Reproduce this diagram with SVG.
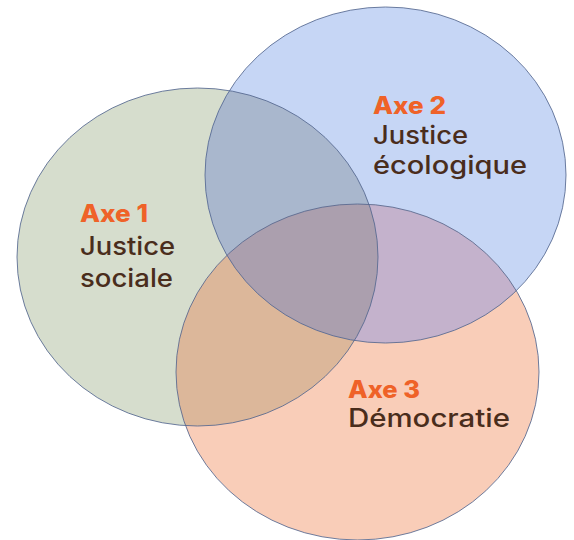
<svg xmlns="http://www.w3.org/2000/svg" width="574" height="540" viewBox="0 0 574 540">
<defs>
<style>
.ax{font-family:Inter,"Open Sans","Liberation Sans",sans-serif;font-weight:800;font-size:24px;fill:#ef6228}
.tx{font-family:Inter,"Open Sans","Liberation Sans",sans-serif;font-weight:500;font-size:25px;fill:#4a2d1c}
.ring{fill:none;stroke:#55678f;stroke-width:1;stroke-opacity:0.85}
</style>
<clipPath id="k1"><ellipse cx="197.5" cy="257" rx="180.5" ry="169"/></clipPath>
<clipPath id="k2"><ellipse cx="385.5" cy="175" rx="180.5" ry="168"/></clipPath>
<clipPath id="k3"><ellipse cx="357.5" cy="372" rx="181.5" ry="168"/></clipPath>
</defs>
<rect width="574" height="540" fill="#ffffff"/>
<g id="axe1">
<ellipse cx="197.5" cy="257" rx="180.5" ry="169" fill="#d6ddcd"/>
<text class="ax" x="80" y="222" textLength="68" lengthAdjust="spacingAndGlyphs">Axe 1</text>
<text class="tx" x="80" y="255" textLength="95" lengthAdjust="spacingAndGlyphs">Justice</text>
<text class="tx" x="80" y="287" textLength="93" lengthAdjust="spacingAndGlyphs">sociale</text>
</g>
<g id="axe2">
<ellipse cx="385.5" cy="175" rx="180.5" ry="168" fill="#c6d6f5"/>
<text class="ax" x="373" y="114" textLength="73" lengthAdjust="spacingAndGlyphs">Axe 2</text>
<text class="tx" x="373" y="144" textLength="95" lengthAdjust="spacingAndGlyphs">Justice</text>
<text class="tx" x="373" y="174" textLength="154" lengthAdjust="spacingAndGlyphs">écologique</text>
</g>
<g id="axe3">
<ellipse cx="357.5" cy="372" rx="181.5" ry="168" fill="#f9cdb8"/>
<text class="ax" x="348" y="398" textLength="72" lengthAdjust="spacingAndGlyphs">Axe 3</text>
<text class="tx" x="348" y="427" textLength="162" lengthAdjust="spacingAndGlyphs">Démocratie</text>
</g>
<g id="overlaps">
<ellipse cx="385.5" cy="175" rx="180.5" ry="168" fill="#a9b7cd" clip-path="url(#k1)"/>
<ellipse cx="357.5" cy="372" rx="181.5" ry="168" fill="#dcb79a" clip-path="url(#k1)"/>
<ellipse cx="357.5" cy="372" rx="181.5" ry="168" fill="#c4b2cc" clip-path="url(#k2)"/>
<g clip-path="url(#k2)"><ellipse cx="357.5" cy="372" rx="181.5" ry="168" fill="#ab9fae" clip-path="url(#k1)"/></g>
</g>
<g id="outlines">
<ellipse class="ring" cx="197.5" cy="257" rx="180.5" ry="169"/>
<ellipse class="ring" cx="385.5" cy="175" rx="180.5" ry="168"/>
<ellipse class="ring" cx="357.5" cy="372" rx="181.5" ry="168"/>
</g>
</svg>
